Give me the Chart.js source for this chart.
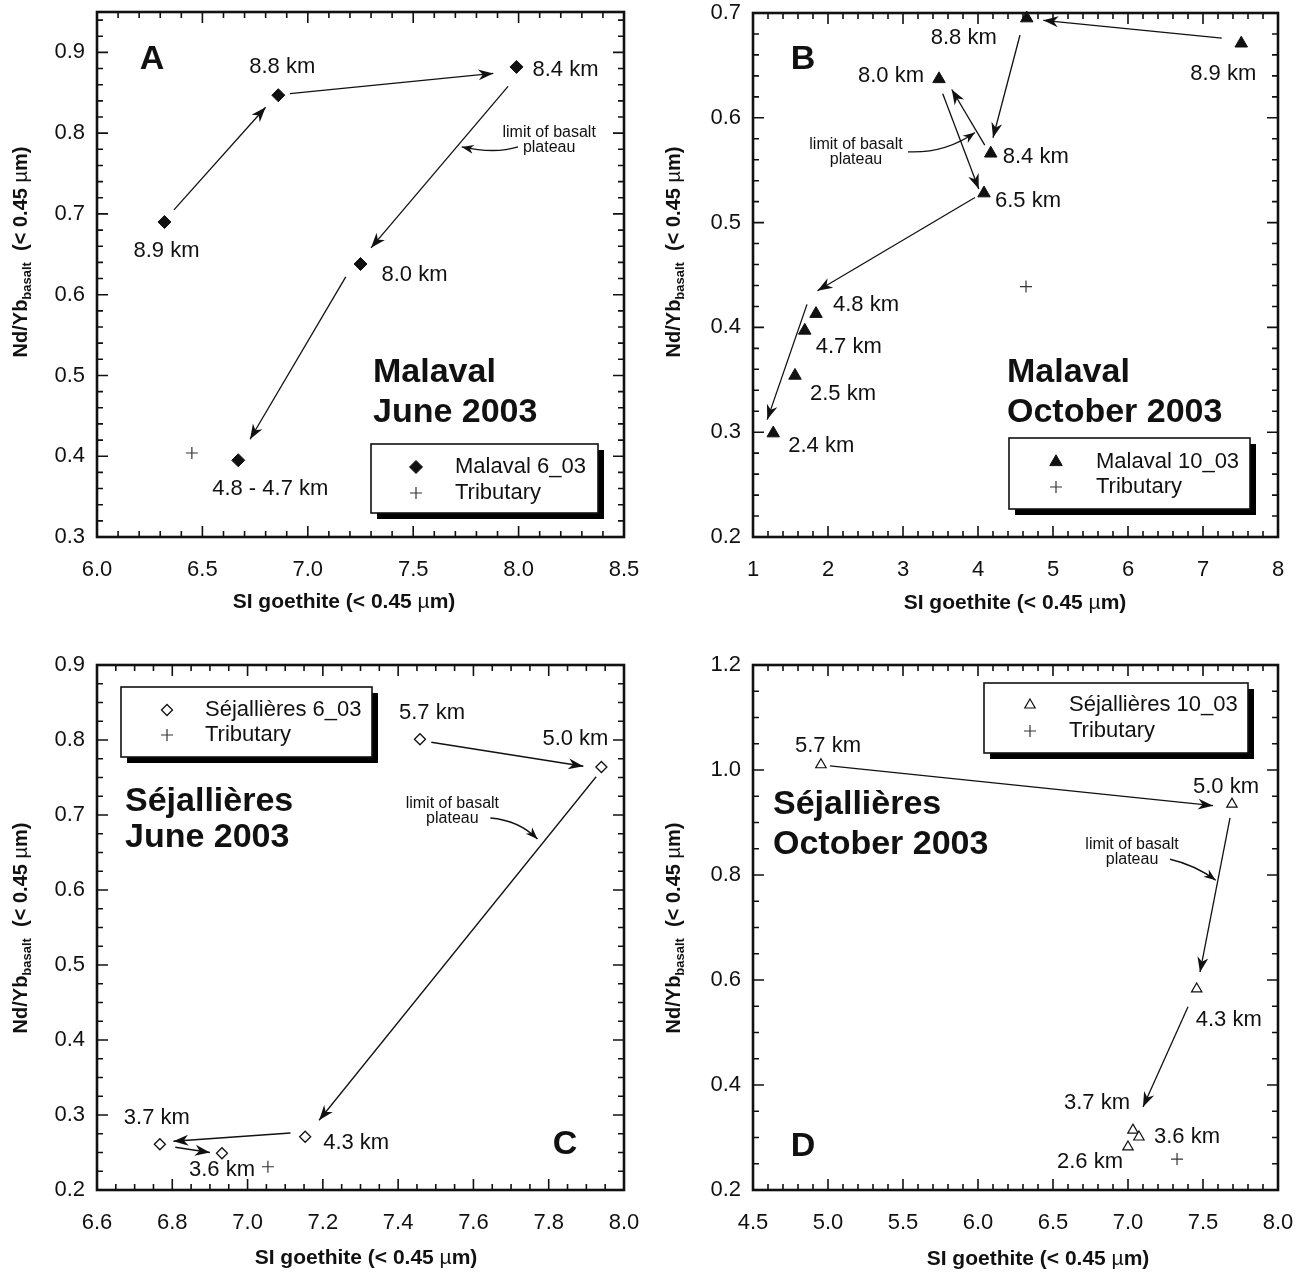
<!DOCTYPE html>
<html><head><meta charset="utf-8">
<script src="https://cdn.jsdelivr.net/npm/chart.js@4.4.1/dist/chart.umd.min.js"></script>
<style>
html,body{margin:0;padding:0;background:#fff;}
#wrap{position:relative;width:1306px;height:1275px;background:#fff;}
.panel{position:absolute;}
canvas{display:block;}
</style></head><body>
<div id="wrap">
<div class="panel" style="left:0;top:0"><canvas id="cA" width="653" height="637"></canvas></div>
<div class="panel" style="left:653px;top:0"><canvas id="cB" width="653" height="637"></canvas></div>
<div class="panel" style="left:0;top:637px"><canvas id="cC" width="653" height="638"></canvas></div>
<div class="panel" style="left:653px;top:637px"><canvas id="cD" width="653" height="638"></canvas></div>
</div>
<script>
// ---------------- DATA ----------------
// Panel A: Malaval June 2003
const malavalJuneX = [6.32, 6.86, 7.99, 7.25, 6.67];
const malavalJuneY = [0.690, 0.847, 0.882, 0.638, 0.395];
const malavalJuneLabels = ['8.9 km', '8.8 km', '8.4 km', '8.0 km', '4.8 - 4.7 km'];
const malavalJuneTribX = [6.45];
const malavalJuneTribY = [0.404];
const malavalJuneArrows = [[6.365, 0.705, 6.80, 0.832], [6.915, 0.849, 7.88, 0.874], [7.95, 0.858, 7.30, 0.658], [7.18, 0.622, 6.726, 0.421]];
const malavalJuneXTicks = ['6.0', '6.5', '7.0', '7.5', '8.0', '8.5'];
const malavalJuneYTicks = ['0.3', '0.4', '0.5', '0.6', '0.7', '0.8', '0.9'];

// Panel B: Malaval October 2003
const malavalOctX = [7.51, 4.65, 4.17, 3.48, 4.08, 1.84, 1.69, 1.56, 1.27];
const malavalOctY = [0.671, 0.695, 0.566, 0.637, 0.528, 0.413, 0.397, 0.354, 0.299];
const malavalOctLabels = ['8.9 km', '8.8 km', '8.4 km', '8.0 km', '6.5 km', '4.8 km', '4.7 km', '2.5 km', '2.4 km'];
const malavalOctTribX = [4.64];
const malavalOctTribY = [0.439];
const malavalOctArrows = [[7.25, 0.676, 4.87, 0.693], [4.56, 0.679, 4.20, 0.581], [4.09, 0.574, 3.65, 0.627], [3.53, 0.623, 4.01, 0.532], [3.96, 0.524, 1.86, 0.435], [1.72, 0.422, 1.19, 0.312]];
const malavalOctXTicks = ['1', '2', '3', '4', '5', '6', '7', '8'];
const malavalOctYTicks = ['0.2', '0.3', '0.4', '0.5', '0.6', '0.7'];

// Panel C: Séjallières June 2003
const sejJuneX = [7.458, 7.94, 7.153, 6.767, 6.932];
const sejJuneY = [0.801, 0.764, 0.271, 0.261, 0.249];
const sejJuneLabels = ['5.7 km', '5.0 km', '4.3 km', '3.7 km', '3.6 km'];
const sejJuneTribX = [7.054];
const sejJuneTribY = [0.231];
const sejJuneArrows = [[7.488, 0.797, 7.892, 0.765], [7.926, 0.751, 7.19, 0.293], [7.114, 0.276, 6.803, 0.265], [6.808, 0.257, 6.90, 0.250]];
const sejJuneXTicks = ['6.6', '6.8', '7.0', '7.2', '7.4', '7.6', '7.8', '8.0'];
const sejJuneYTicks = ['0.2', '0.3', '0.4', '0.5', '0.6', '0.7', '0.8', '0.9'];

// Panel D: Séjallières October 2003
const sejOctX = [4.953, 7.693, 7.458, 7.033, 7.073, 7.00];
const sejOctY = [1.010, 0.935, 0.583, 0.314, 0.301, 0.282];
const sejOctLabels = ['5.7 km', '5.0 km', '4.3 km', '3.7 km', '3.6 km', '2.6 km'];
const sejOctTribX = [7.327];
const sejOctTribY = [0.259];
const sejOctArrows = [[5.013, 1.008, 7.567, 0.932], [7.68, 0.909, 7.48, 0.615], [7.40, 0.549, 7.10, 0.358]];
const sejOctXTicks = ['4.5', '5.0', '5.5', '6.0', '6.5', '7.0', '7.5', '8.0'];
const sejOctYTicks = ['0.2', '0.4', '0.6', '0.8', '1.0', '1.2'];

// ---------------- STYLE / LAYOUT ----------------
const FONT = '"Liberation Sans", Arial, Helvetica, sans-serif';
const INK = '#111';

function fontStr(size, bold) { return (bold ? 'bold ' : '') + size + 'px ' + FONT; }

function drawArrowHead(ctx, x1, y1, x2, y2, L, W) {
  const a = Math.atan2(y2 - y1, x2 - x1);
  ctx.save();
  ctx.translate(x2, y2); ctx.rotate(a);
  ctx.beginPath();
  ctx.moveTo(0, 0);
  ctx.lineTo(-L, -W);
  ctx.lineTo(-L * 0.7, 0);
  ctx.lineTo(-L, W);
  ctx.closePath();
  ctx.fill();
  ctx.restore();
}

function drawParts(ctx, parts, x, y, align) {
  let total = 0;
  parts.forEach(p => { ctx.font = fontStr(p[1], p[2]); total += ctx.measureText(p[0]).width; });
  let cx = align === 'center' ? x - total / 2 : x;
  ctx.textAlign = 'left';
  ctx.textBaseline = 'middle';
  parts.forEach(p => {
    ctx.font = fontStr(p[1], p[2]);
    ctx.fillText(p[0], cx, y + (p[3] || 0));
    cx += ctx.measureText(p[0]).width;
  });
}

function makePanel(id, cfg) {
  const xVals = cfg.xTicks.map(Number);
  const yVals = cfg.yTicks.map(Number);

  const deco = {
    id: 'deco_' + id,
    beforeDatasetsDraw(chart) {
      const ctx = chart.ctx, a = chart.chartArea;
      const xs = chart.scales.x, ys = chart.scales.y;
      ctx.save();
      ctx.strokeStyle = INK;
      ctx.lineWidth = 1.6;
      const near = (v, arr) => arr.some(m => Math.abs(m - v) < 1e-6);
      for (let k = 0; ; k++) {
        const v = +(cfg.xMin + k * cfg.xMinor).toFixed(6);
        if (v > cfg.xMax + 1e-9) break;
        const len = near(v, xVals) ? 11 : 6;
        const px = xs.getPixelForValue(v);
        ctx.beginPath();
        ctx.moveTo(px, a.bottom); ctx.lineTo(px, a.bottom - len);
        ctx.moveTo(px, a.top); ctx.lineTo(px, a.top + len);
        ctx.stroke();
      }
      for (let k = 0; ; k++) {
        const v = +(cfg.yMin + k * cfg.yMinor).toFixed(6);
        if (v > cfg.yMax + 1e-9) break;
        const len = near(v, yVals) ? 11 : 6;
        const py = ys.getPixelForValue(v);
        ctx.beginPath();
        ctx.moveTo(a.left, py); ctx.lineTo(a.left + len, py);
        ctx.moveTo(a.right, py); ctx.lineTo(a.right - len, py);
        ctx.stroke();
      }
      ctx.lineWidth = 2.6;
      ctx.strokeRect(a.left, a.top, a.right - a.left, a.bottom - a.top);
      ctx.restore();
    },
    afterDatasetsDraw(chart) {
      const ctx = chart.ctx;
      const xs = chart.scales.x, ys = chart.scales.y;
      const X = v => xs.getPixelForValue(v), Y = v => ys.getPixelForValue(v);
      ctx.save();
      ctx.fillStyle = INK; ctx.strokeStyle = INK;
      ctx.lineWidth = 1.3;
      cfg.arrows.forEach(r => {
        const x1 = X(r[0]), y1 = Y(r[1]), x2 = X(r[2]), y2 = Y(r[3]);
        ctx.beginPath(); ctx.moveTo(x1, y1); ctx.lineTo(x2, y2); ctx.stroke();
        drawArrowHead(ctx, x1, y1, x2, y2, 15, 5.5);
      });
      ctx.font = fontStr(22, false);
      ctx.textBaseline = 'middle';
      cfg.labels.forEach((t, i) => {
        const o = cfg.labelPos[i];
        ctx.textAlign = o[2];
        ctx.fillText(t, X(cfg.x[i]) + o[0], Y(cfg.y[i]) + o[1]);
      });
      const an = cfg.note;
      ctx.font = fontStr(16, false);
      ctx.textAlign = 'center';
      const tx = X(an.text[0]), ty = Y(an.text[1]);
      ctx.fillText('limit of basalt', tx, ty);
      ctx.fillText('plateau', tx, ty + 15);
      const sx = X(an.curve[0]), sy = Y(an.curve[1]);
      const qx = X(an.curve[2]), qy = Y(an.curve[3]);
      const ex = X(an.curve[4]), ey = Y(an.curve[5]);
      ctx.lineWidth = 1.3;
      ctx.beginPath(); ctx.moveTo(sx, sy); ctx.quadraticCurveTo(qx, qy, ex, ey); ctx.stroke();
      drawArrowHead(ctx, qx, qy, ex, ey, 12, 4.5);
      ctx.font = fontStr(34, true);
      ctx.textAlign = 'center';
      ctx.fillText(cfg.letter, cfg.letterPos[0], cfg.letterPos[1]);
      ctx.textAlign = 'left';
      ctx.fillText(cfg.title[0], cfg.titlePos[0], cfg.titlePos[1]);
      ctx.fillText(cfg.title[1], cfg.titlePos[0], cfg.titlePos[2]);
      const L = cfg.legend;
      ctx.fillStyle = '#000';
      ctx.fillRect(L.x + 6, L.y + 6, L.w, L.h);
      ctx.fillStyle = '#fff';
      ctx.fillRect(L.x, L.y, L.w, L.h);
      ctx.lineWidth = 1.6; ctx.strokeStyle = INK;
      ctx.strokeRect(L.x, L.y, L.w, L.h);
      const ds = chart.data.datasets;
      [0, 1].forEach(k => {
        const d = ds[k];
        const ry = L.rows[k];
        ctx.save();
        ctx.fillStyle = d.backgroundColor; ctx.strokeStyle = d.borderColor; ctx.lineWidth = d.borderWidth;
        Chart.helpers.drawPoint(ctx, { pointStyle: d.pointStyle, radius: d.pointRadius, rotation: 0, borderWidth: d.borderWidth }, L.mx, ry);
        ctx.restore();
        ctx.fillStyle = INK;
        ctx.font = fontStr(22, false);
        ctx.textAlign = 'left'; ctx.textBaseline = 'middle';
        ctx.fillText(d.label, L.tx, ry);
      });
      ctx.fillStyle = INK;
      drawParts(ctx, [['SI goethite (< 0.45 ', 21, true], ['\u00B5', 21, false], ['m)', 21, true]], cfg.xTitle[0], cfg.xTitle[1], 'center');
      ctx.save();
      ctx.translate(cfg.yTitle[0], cfg.yTitle[1]);
      ctx.rotate(-Math.PI / 2);
      drawParts(ctx, [['Nd/Yb', 20, true], ['basalt', 13, true, 6], ['  (< 0.45 ', 20, true], ['\u00B5', 20, false], ['m)', 20, true]], 0, 0, 'center');
      ctx.restore();
      ctx.restore();
    }
  };

  new Chart(document.getElementById(id), {
    type: 'scatter',
    data: {
      datasets: [
        {
          label: cfg.name,
          data: cfg.x.map((v, i) => ({ x: v, y: cfg.y[i] })),
          pointStyle: cfg.pointStyle, pointRadius: cfg.r,
          backgroundColor: cfg.fill, borderColor: INK, borderWidth: cfg.bw, clip: false
        },
        {
          label: 'Tributary',
          data: cfg.tx.map((v, i) => ({ x: v, y: cfg.ty[i] })),
          pointStyle: 'cross', pointRadius: 6,
          backgroundColor: '#333', borderColor: '#333', borderWidth: 1.2, clip: false
        }
      ]
    },
    options: {
      responsive: false, animation: false, devicePixelRatio: 1, events: [],
      layout: { padding: { top: cfg.pad[0], right: cfg.pad[1], bottom: 0, left: 0 } },
      plugins: { legend: { display: false }, tooltip: { enabled: false } },
      scales: {
        x: {
          type: 'linear', min: cfg.xMin, max: cfg.xMax,
          grid: { display: false, drawTicks: false }, border: { display: false },
          ticks: {
            color: INK, font: { family: FONT, size: 22 }, padding: 20, maxRotation: 0, autoSkip: false,
            callback: (v, i) => cfg.xTicks[i]
          },
          afterBuildTicks: s => { s.ticks = xVals.map(v => ({ value: v })); },
          afterFit: s => { s.height = cfg.xH; s.paddingLeft = 0; s.paddingRight = 0; }
        },
        y: {
          type: 'linear', min: cfg.yMin, max: cfg.yMax,
          grid: { display: false, drawTicks: false }, border: { display: false },
          ticks: {
            color: INK, font: { family: FONT, size: 22 }, padding: 12, autoSkip: false,
            callback: (v, i) => cfg.yTicks[i]
          },
          afterBuildTicks: s => { s.ticks = yVals.map(v => ({ value: v })); },
          afterFit: s => { s.width = cfg.yW; s.paddingTop = 0; s.paddingBottom = 0; }
        }
      }
    },
    plugins: [deco]
  });
}

makePanel('cA', {
  name: 'Malaval 6_03', x: malavalJuneX, y: malavalJuneY, labels: malavalJuneLabels,
  tx: malavalJuneTribX, ty: malavalJuneTribY, arrows: malavalJuneArrows,
  xTicks: malavalJuneXTicks, yTicks: malavalJuneYTicks,
  xMin: 6.0, xMax: 8.5, xMinor: 0.1, yMin: 0.3, yMax: 0.95, yMinor: 0.02,
  pointStyle: 'rectRot', r: 6.5, fill: '#111', bw: 1,
  pad: [12, 29], xH: 100, yW: 97,
  labelPos: [[2, 29, 'center'], [4, -28, 'center'], [16, 3, 'left'], [21, 11, 'left'], [32, 29, 'center']],
  note: { text: [8.145, 0.801], curve: [7.997, 0.783, 7.888, 0.774, 7.73, 0.783] },
  letter: 'A', letterPos: [152, 60],
  title: ['Malaval', 'June 2003'], titlePos: [373, 373, 413],
  legend: { x: 371, y: 444, w: 227, h: 69, mx: 416, tx: 455, rows: [467, 493] },
  xTitle: [344, 602], yTitle: [21, 252]
});

makePanel('cB', {
  name: 'Malaval 10_03', x: malavalOctX, y: malavalOctY, labels: malavalOctLabels,
  tx: malavalOctTribX, ty: malavalOctTribY, arrows: malavalOctArrows,
  xTicks: malavalOctXTicks, yTicks: malavalOctYTicks,
  xMin: 1, xMax: 8, xMinor: 0.2, yMin: 0.2, yMax: 0.7, yMinor: 0.02,
  pointStyle: 'triangle', r: 7.2, fill: '#111', bw: 1,
  pad: [13, 28], xH: 100, yW: 100,
  labelPos: [[-18, 31, 'center'], [-30, 20, 'right'], [12, 4, 'left'], [-15, -3, 'right'], [11, 8, 'left'], [17, -9, 'left'], [11, 16, 'left'], [15, 18, 'left'], [15, 13, 'left']],
  note: { text: [2.373, 0.574], curve: [3.067, 0.5675, 3.56, 0.566, 3.96, 0.586] },
  letter: 'B', letterPos: [150, 60],
  title: ['Malaval', 'October 2003'], titlePos: [354, 373, 413],
  legend: { x: 356, y: 438, w: 241, h: 71, mx: 403, tx: 443, rows: [462, 487] },
  xTitle: [362, 603], yTitle: [21, 252]
});

makePanel('cC', {
  name: 'S\u00e9jalli\u00e8res 6_03', x: sejJuneX, y: sejJuneY, labels: sejJuneLabels,
  tx: sejJuneTribX, ty: sejJuneTribY, arrows: sejJuneArrows,
  xTicks: sejJuneXTicks, yTicks: sejJuneYTicks,
  xMin: 6.6, xMax: 8.0, xMinor: 0.05, yMin: 0.2, yMax: 0.9, yMinor: 0.025,
  pointStyle: 'rectRot', r: 5.5, fill: '#fff', bw: 1.3,
  pad: [28, 29], xH: 85, yW: 97,
  labelPos: [[12, -26, 'center'], [-26, -28, 'center'], [18, 6, 'left'], [-3, -26, 'center'], [0, 17, 'center']],
  note: { text: [7.544, 0.7147], curve: [7.645, 0.696, 7.72, 0.693, 7.77, 0.668] },
  letter: 'C', letterPos: [565, 508],
  title: ['S\u00e9jalli\u00e8res', 'June 2003'], titlePos: [125, 165, 201],
  legend: { x: 121, y: 50, w: 251, h: 70, mx: 167, tx: 205, rows: [73, 98] },
  xTitle: [366, 621], yTitle: [21, 291]
});

makePanel('cD', {
  name: 'S\u00e9jalli\u00e8res 10_03', x: sejOctX, y: sejOctY, labels: sejOctLabels,
  tx: sejOctTribX, ty: sejOctTribY, arrows: sejOctArrows,
  xTicks: sejOctXTicks, yTicks: sejOctYTicks,
  xMin: 4.5, xMax: 8.0, xMinor: 0.1, yMin: 0.2, yMax: 1.2, yMinor: 0.05,
  pointStyle: 'triangle', r: 6, fill: '#fff', bw: 1.2,
  pad: [28, 28], xH: 85, yW: 100,
  labelPos: [[7, -19, 'center'], [-6, -17, 'center'], [32, 31, 'center'], [-36, -27, 'center'], [15, 0, 'left'], [-38, 15, 'center']],
  note: { text: [7.027, 0.857], curve: [7.28, 0.830, 7.447, 0.819, 7.585, 0.79] },
  letter: 'D', letterPos: [150, 510],
  title: ['S\u00e9jalli\u00e8res', 'October 2003'], titlePos: [120, 168, 208],
  legend: { x: 331, y: 46, w: 264, h: 70, mx: 377, tx: 416, rows: [68, 94] },
  xTitle: [385, 622], yTitle: [21, 291]
});
</script>
</body></html>
